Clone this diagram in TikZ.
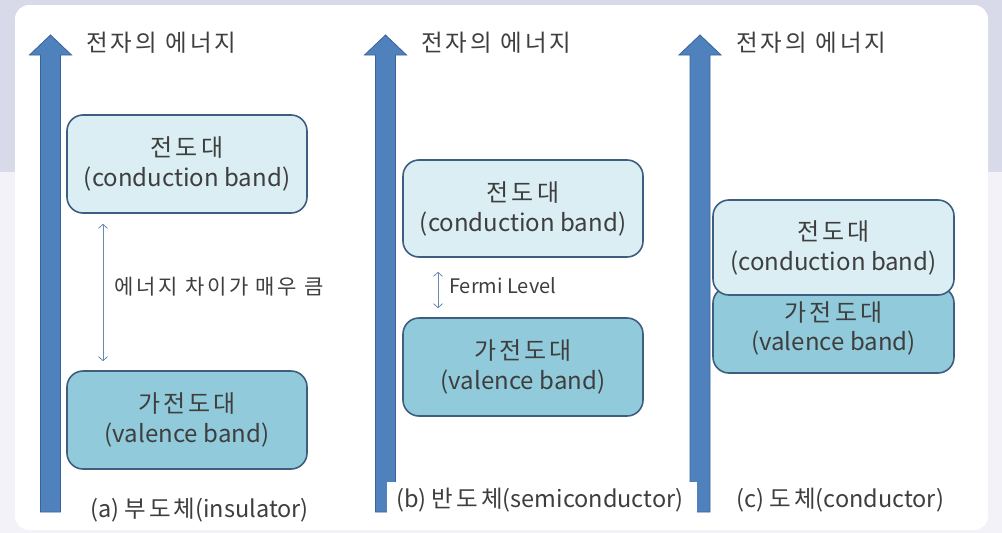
\documentclass[tikz,border=0pt]{standalone}
\usepackage{fontspec}
\setmainfont{Noto Sans CJK KR}
\newfontfamily\kr[LetterSpace=13]{Noto Sans CJK KR}
\usetikzlibrary{arrows.meta}
\definecolor{bgtop}{HTML}{D9DAE9}
\definecolor{bgbot}{HTML}{F2F2F8}
\definecolor{arrowblue}{HTML}{4F81BD}
\definecolor{arrowedge}{HTML}{3A639A}
\definecolor{cbfill}{HTML}{DAEEF4}
\definecolor{vbfill}{HTML}{91CBDB}
\definecolor{boxedge}{HTML}{3E5E80}
\definecolor{txt}{HTML}{3E3E3E}
\definecolor{thin}{HTML}{6A8BB0}
\tikzset{
  band/.style={draw=boxedge, line width=1.6pt, rounded corners=16pt,
    minimum width=240pt, align=center, text=txt,
    font=\fontsize{24}{30}\selectfont, inner sep=0pt},
  cband/.style={band, fill=cbfill},
  vband/.style={band, fill=vbfill},
  title/.style={anchor=west, text=txt, font=\fontsize{23.5}{26}\selectfont, inner sep=0pt},
  caption/.style={anchor=west, text=txt, font=\fontsize{23.5}{26}\selectfont, inner sep=0pt},
  note/.style={anchor=west, text=txt, inner sep=0pt},
  gap/.style={draw=thin, line width=0.8pt, {Straight Barb[length=4pt,width=9pt]}-{Straight Barb[length=4pt,width=9pt]}},
  energy/.style={fill=arrowblue, draw=arrowedge, line width=0.8pt}
}
\newcommand{\energyarrow}[1]{%
  \draw[energy] (#1-10,512) -- (#1-10,55) -- (#1-21,55) -- (#1,35) -- (#1+21,55) -- (#1+10,55) -- (#1+10,512) -- cycle;}
\begin{document}
\begin{tikzpicture}[x=1pt,y=-1pt]
\useasboundingbox (0,0) rectangle (1002,533);
\fill[bgtop] (0,0) rectangle (1002,533);
\fill[bgbot] (0,172) rectangle (1002,533);
\fill[white, rounded corners=14pt] (15,5) rectangle (988,530);

% energy axes
\energyarrow{50.5}
\energyarrow{385.5}
\energyarrow{700}

\node[title] (ta) at (86,43) {\kr 전자의 에너지};
\node[title] (tb) at (421,43) {\kr 전자의 에너지};
\node[title] (tc) at (736,43) {\kr 전자의 에너지};

% (a) insulator
\node[cband, minimum height=98pt] (ca) at (187,164) {{\kr 전도대}\\(conduction band)};
\node[vband, minimum height=98pt] (va) at (187,420) {{\kr 가전도대}\\(valence band)};
\coordinate (ga1) at ([xshift=-84pt,yshift=-10pt]ca.south);
\coordinate (ga2) at ([xshift=-84pt,yshift=9pt]va.north);
\draw[gap] (ga1) -- (ga2);
\node[note, font=\fontsize{21}{24}\selectfont] (la) at (114,287) {\kr 에너지 차이가 매우 큼};
\node[caption] (capa) at (90,510) {(a) {\kr 부도체}(insulator)};

% (b) semiconductor
\node[cband, minimum height=97pt] (cb) at (523,208.5) {{\kr 전도대}\\(conduction band)};
\node[vband, minimum height=98pt] (vb) at (523,367) {{\kr 가전도대}\\(valence band)};
\coordinate (gb1) at ([xshift=-85pt,yshift=-14pt]cb.south);
\coordinate (gb2) at ([xshift=-85pt,yshift=9pt]vb.north);
\draw[gap] (gb1) -- (gb2);
\node[note, font=\fontsize{20}{24}\selectfont] (lb) at (449,286) {Fermi Level};
\fill[white] (387,482) rectangle (697,522);
\node[caption] (capb) at (396,500) {(b) {\kr 반도체}(semiconductor)};

% (c) conductor
\node[vband, minimum width=241pt, minimum height=86pt] (vc) at (833.5,330) {};
\node[cband, minimum width=241pt, minimum height=95pt] (cc) at (833.5,247.5) {{\kr 전도대}\\(conduction band)};
\node[align=center, text=txt, font=\fontsize{24}{29}\selectfont, inner sep=0pt] (vct) at (833.5,328) {{\kr 가전도대}\\(valence band)};
\node[caption] (capc) at (736,500) {(c) {\kr 도체}(conductor)};
\end{tikzpicture}
\end{document}
